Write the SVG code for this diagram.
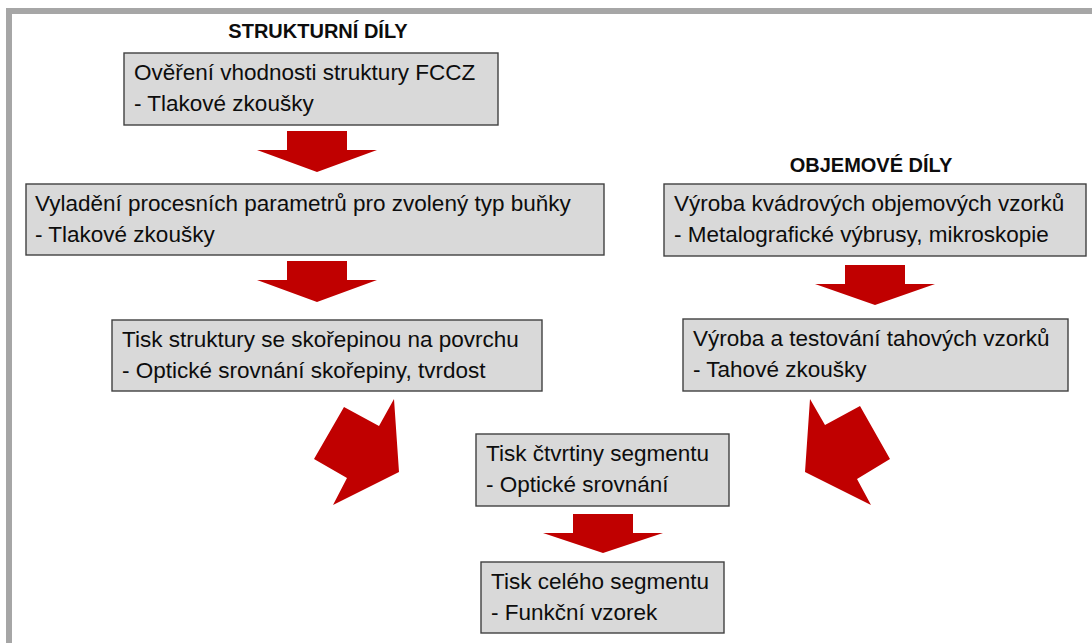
<svg xmlns="http://www.w3.org/2000/svg" width="1092" height="643" viewBox="0 0 1092 643">
<style>
.box{fill:#d9d9d9;stroke:#404040;stroke-width:1.4}
.t{font-family:"Liberation Sans",Arial,sans-serif;font-size:22.5px;fill:#0d0d0d}
.h{font-family:"Liberation Sans",Arial,sans-serif;font-size:20px;font-weight:bold;fill:#0d0d0d;text-anchor:middle}
.arr{fill:#c00000}
</style>
<rect x="0" y="0" width="1092" height="643" fill="#ffffff"/>
<rect x="9" y="11" width="1110" height="700" fill="none" stroke="#a6a6a6" stroke-width="6"/>
<text class="h" x="318" y="38">STRUKTURNÍ DÍLY</text>
<text class="h" x="871" y="172">OBJEMOVÉ DÍLY</text>
<g id="n1"><rect class="box" x="124" y="53" width="374" height="72"/><text class="t" x="134" y="80">Ověření vhodnosti struktury FCCZ</text><text class="t" x="134" y="111">- Tlakové zkoušky</text></g>
<g id="n2"><rect class="box" x="26" y="184" width="578" height="71"/><text class="t" x="35" y="211">Vyladění procesních parametrů pro zvolený typ buňky</text><text class="t" x="35" y="242">- Tlakové zkoušky</text></g>
<g id="n3"><rect class="box" x="112" y="320" width="430" height="71"/><text class="t" x="122" y="347">Tisk struktury se skořepinou na povrchu</text><text class="t" x="122" y="378">- Optické srovnání skořepiny, tvrdost</text></g>
<g id="n4"><rect class="box" x="476" y="434" width="253" height="72"/><text class="t" x="486" y="461">Tisk čtvrtiny segmentu</text><text class="t" x="486" y="492">- Optické srovnání</text></g>
<g id="n5"><rect class="box" x="481" y="562" width="243" height="71"/><text class="t" x="491" y="589">Tisk celého segmentu</text><text class="t" x="491" y="620">- Funkční vzorek</text></g>
<g id="n6"><rect class="box" x="664" y="184" width="422" height="72"/><text class="t" x="674" y="211">Výroba kvádrových objemových vzorků</text><text class="t" x="674" y="242">- Metalografické výbrusy, mikroskopie</text></g>
<g id="n7"><rect class="box" x="683" y="319" width="385" height="72"/><text class="t" x="693" y="346">Výroba a testování tahových vzorků</text><text class="t" x="693" y="377">- Tahové zkoušky</text></g>
<g id="connectors">
<polygon class="arr" points="287,131 347,131 347,150 377,150 317,172 257,150 287,150"/>
<polygon class="arr" points="287,261 347,261 347,280 377,280 317,302 257,280 287,280"/>
<polygon class="arr" points="845,265 905,265 905,284 935,284 875,305 815,284 845,284"/>
<polygon class="arr" points="573,514 633,514 633,533 663,533 603,553 543,533 573,533"/>
<polygon class="arr" points="344,407 379,426 394,399 399,472 333,505 347,478 314,459"/>
<polygon class="arr" points="860,406 825,425 810,399 805,472 871,505 857,479 890,459"/>
</g>
</svg>
